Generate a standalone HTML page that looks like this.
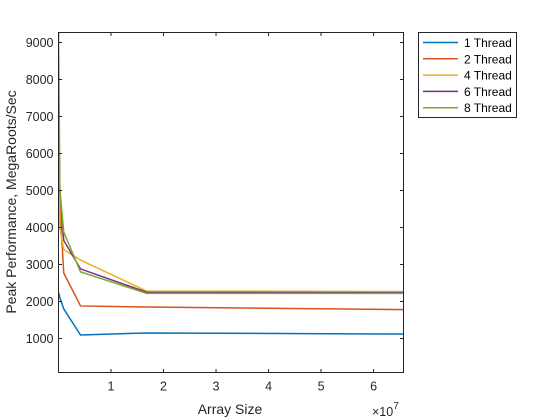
<!DOCTYPE html>
<html><head><meta charset="utf-8"><style>
body{margin:0;background:#fff;}
svg{display:block;font-family:"Liberation Sans",sans-serif;}
</style></head><body>
<svg id="chart" width="560" height="420" xmlns="http://www.w3.org/2000/svg"></svg>
<script>
const xValues=[1e4,2.6e5,1e6,4.19e6,1.68e7,6.58e7];
const seriesNames=["1 Thread","2 Thread","4 Thread","6 Thread","8 Thread"];
const seriesColors=["#0072BD","#D95319","#EDB120","#7E2F8E","#77AC30"];
const thread1=[2250,2100,1800,1095,1150,1120];
const thread2=[4500,4600,2770,1880,1850,1780];
const thread4=[8600,4000,3400,3120,2280,2270];
const thread6=[7850,5000,3650,2880,2250,2240];
const thread8=[9300,5000,3880,2800,2220,2220];
const yTicks=[1000,2000,3000,4000,5000,6000,7000,8000,9000];
const xTicks=[1,2,3,4,5,6];
const allSeries=[thread1,thread2,thread4,thread6,thread8];

const L=58.5,R=403.5,T=32.5,B=372.5;
const xMin=0,xMax=6.57e7;
function sx(v){return L+(v-xMin)/(xMax-xMin)*(R-L);}
function sy(v){return 338.5-(v-1000)*0.037;}
const NS="http://www.w3.org/2000/svg";
const svg=document.getElementById('chart');
function mk(tag,attrs,parent){const e=document.createElementNS(NS,tag);for(const k in attrs)e.setAttribute(k,attrs[k]);(parent||svg).appendChild(e);return e;}

const clip=mk('clipPath',{id:'plotclip'});
mk('rect',{x:L,y:T,width:R-L,height:B-T},clip);

allSeries.forEach((s,i)=>{
  const pts=s.map((v,j)=>sx(xValues[j]).toFixed(2)+','+sy(v).toFixed(2)).join(' ');
  const pl=mk('polyline',{points:pts,fill:'none',stroke:seriesColors[i],'stroke-width':1.5,'clip-path':'url(#plotclip)'});
  
  
});

const box=mk('rect',{x:L,y:T,width:R-L,height:B-T,fill:'none',stroke:'#262626','stroke-width':1});



yTicks.forEach(v=>{
  const y=sy(v);
  mk('line',{x1:L,x2:L+3.5,y1:y,y2:y,stroke:'#262626'});
  mk('line',{x1:R,x2:R-3.5,y1:y,y2:y,stroke:'#262626'});
  const t=mk('text',{x:L-5,y:y+4.5,'text-anchor':'end','font-size':12.5,fill:'#262626'});
  t.textContent=v;
  
  
});
xTicks.forEach(v=>{
  const x=sx(v*1e7);
  mk('line',{x1:x,x2:x,y1:B,y2:B-3.5,stroke:'#262626'});
  mk('line',{x1:x,x2:x,y1:T,y2:T+3.5,stroke:'#262626'});
  const t=mk('text',{x:x,y:B+18,'text-anchor':'middle','font-size':12.5,fill:'#262626'});
  t.textContent=v;
  
  
});
const ex=mk('text',{x:372,y:416,'font-size':12.5,fill:'#262626'});
ex.innerHTML='×10<tspan dy="-7" font-size="10">7</tspan>';



const xl=mk('text',{x:230,y:414,'text-anchor':'middle','font-size':14,fill:'#262626'});
xl.textContent='Array Size';


const yl=mk('text',{x:0,y:0,'text-anchor':'middle','font-size':14,fill:'#262626',transform:'translate(16,202) rotate(-90)'});
yl.textContent='Peak Performance, MegaRoots/Sec';



const lg=mk('g',{});


mk('rect',{x:418.5,y:32.5,width:98,height:85,fill:'#fff',stroke:'#262626','stroke-width':1},lg);
seriesNames.forEach((n,i)=>{
  const y=42.5+i*16.3;
  const g=mk('g',{},lg);
  
  
  mk('line',{x1:423,x2:458,y1:y,y2:y,stroke:seriesColors[i],'stroke-width':1.5},g);
  const t=mk('text',{x:464,y:y+4.5,'font-size':12,fill:'#000'},g);
  t.textContent=n;
});
</script>
</body></html>
